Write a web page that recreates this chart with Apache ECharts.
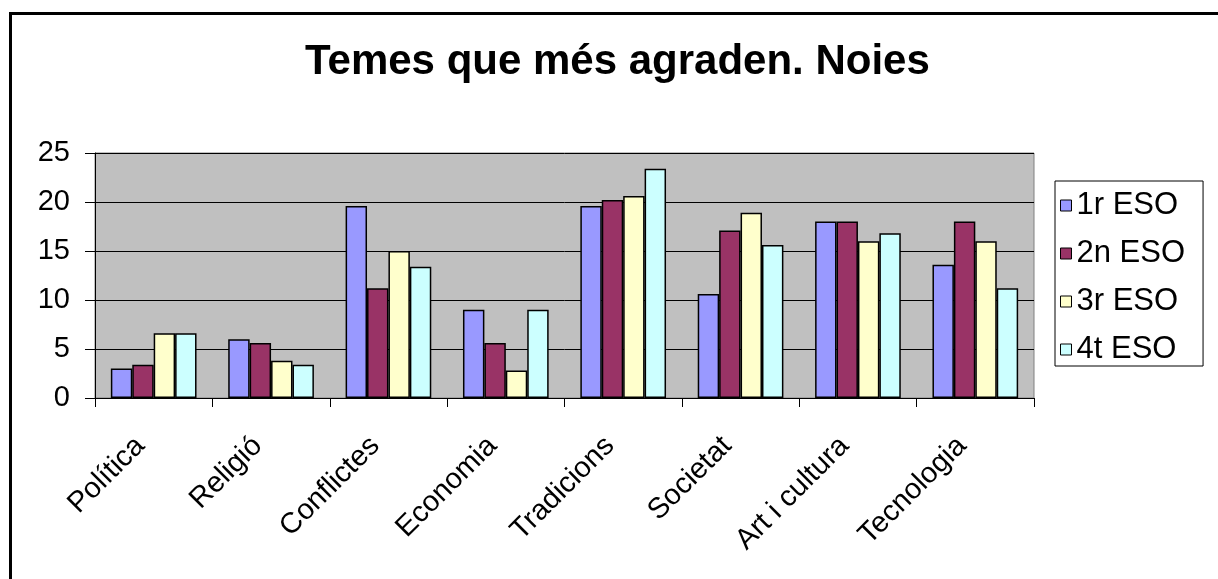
<!DOCTYPE html>
<html>
<head>
<meta charset="utf-8">
<title>Temes que més agraden. Noies</title>
<script src="https://cdn.jsdelivr.net/npm/echarts@6/dist/echarts.min.js"></script>
<style>
    html, body {
        margin: 0;
        padding: 0;
        background: #ffffff;
    }
    #chart {
        width: 1218px;
        height: 579px;
    }
</style>
</head>
<body>
<div id="chart"></div>
<script>
// categories (temes)
const categories = ['Política', 'Religió', 'Conflictes', 'Economia', 'Tradicions', 'Societat', 'Art i cultura', 'Tecnologia']

// series names
const seriesNames = ['1r ESO', '2n ESO', '3r ESO', '4t ESO']

// values
const eso1 = [3.0, 6.0, 19.6, 9.0, 19.6, 10.6, 18.0, 13.6]
const eso2 = [3.4, 5.6, 11.2, 5.6, 20.2, 17.1, 18.0, 18.0]
const eso3 = [6.6, 3.8, 15.0, 2.8, 20.6, 18.9, 16.0, 16.0]
const eso4 = [6.6, 3.4, 13.4, 9.0, 23.4, 15.6, 16.8, 11.2]

// y axis ticks
const yMin = 0
const yMax = 25
const yStep = 5

const seriesData = [eso1, eso2, eso3, eso4]
const colors = ['#9999ff', '#993366', '#ffffcc', '#ccffff']
const fontFamily = '"Liberation Sans", Arial, sans-serif'

const chart = echarts.init(document.getElementById('chart'), null, { renderer: 'canvas' })

chart.setOption({
    animation: false,
    color: colors,
    textStyle: {
        fontFamily: fontFamily,
    },
    title: {
        text: 'Temes que més agraden. Noies',
        left: 305,
        top: 41,
        padding: 0,
        textStyle: {
            fontFamily: fontFamily,
            fontSize: 42,
            fontWeight: 'bold',
            color: '#000',
        },
    },
    // cadre exterior
    graphic: [
        {
            type: 'rect',
            left: 8,
            top: 11,
            shape: { width: 1300, height: 700 },
            style: { fill: 'none', stroke: '#000', lineWidth: 3 },
            silent: true,
        },
    ],
    legend: {
        orient: 'vertical',
        left: 1055,
        top: 181,
        padding: [9, 18, 1, 5],
        itemGap: 17,
        itemWidth: 11,
        itemHeight: 11,
        icon: 'rect',
        borderColor: '#000',
        borderWidth: 1,
        backgroundColor: '#fff',
        itemStyle: {
            borderColor: '#000',
            borderWidth: 1,
        },
        textStyle: {
            fontFamily: fontFamily,
            fontSize: 31,
            lineHeight: 28,
            color: '#000',
        },
        data: seriesNames,
    },
    grid: {
        left: 95,
        top: 153,
        width: 939,
        height: 245,
        show: true,
        backgroundColor: '#c0c0c0',
        borderColor: '#808080',
        borderWidth: 1,
        containLabel: false,
    },
    xAxis: {
        type: 'category',
        data: categories,
        axisLine: { lineStyle: { color: '#000', width: 1 } },
        axisTick: { show: true, length: 9, lineStyle: { color: '#000' } },
        axisLabel: {
            interval: 0,
            rotate: 45,
            margin: 30,
            padding: [0, 19, 0, 0],
            fontFamily: fontFamily,
            fontSize: 29,
            color: '#000',
        },
    },
    yAxis: {
        type: 'value',
        min: yMin,
        max: yMax,
        interval: yStep,
        axisLine: { show: true, lineStyle: { color: '#000', width: 1 } },
        axisTick: { show: true, length: 10, lineStyle: { color: '#000' } },
        splitLine: { show: true, lineStyle: { color: '#000', width: 1 } },
        axisLabel: {
            margin: 25,
            fontFamily: fontFamily,
            fontSize: 29,
            color: '#000',
        },
    },
    series: seriesNames.map((name, i) => ({
        name: name,
        type: 'bar',
        data: seriesData[i],
        barGap: '0%',
        barCategoryGap: '27%',
        itemStyle: {
            color: colors[i],
            borderColor: '#000',
            borderWidth: 1.5,
        },
    })),
})
</script>
</body>
</html>
